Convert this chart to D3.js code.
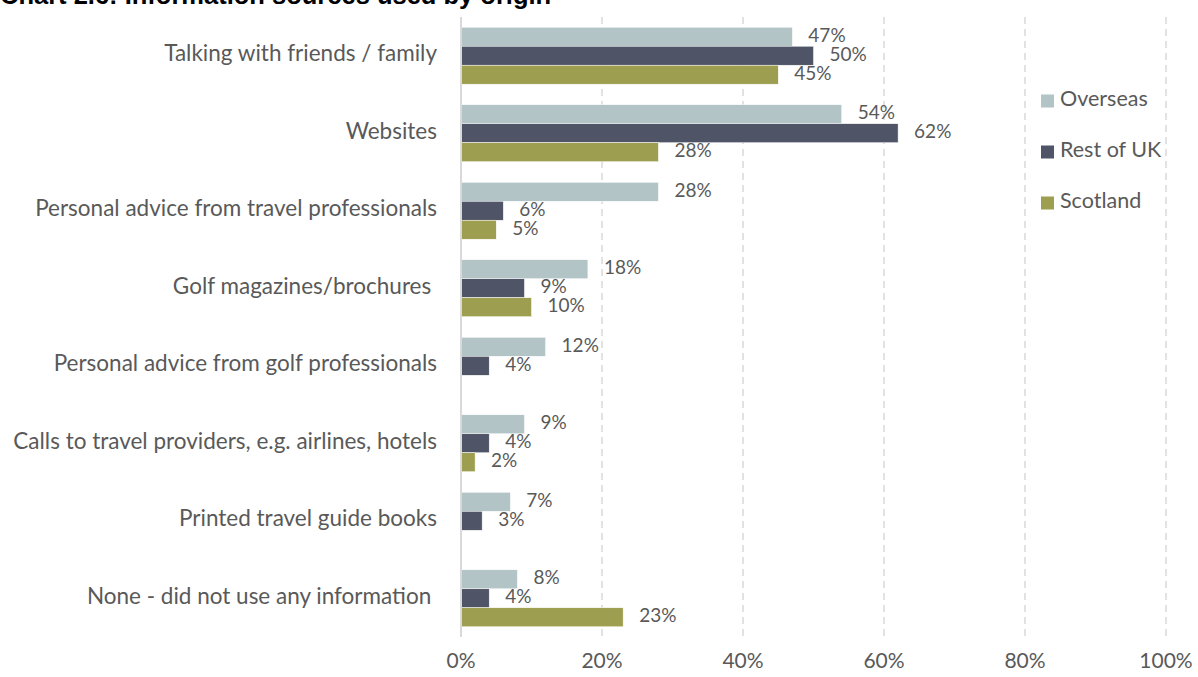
<!DOCTYPE html>
<html>
<head>
<meta charset="utf-8">
<script src="https://cdn.jsdelivr.net/npm/d3@7"></script>
<style>
  body { margin: 0; background: #fff; }
  svg text { font-family: "Lato", "Liberation Sans", sans-serif; }
</style>
</head>
<body>
<div id="chart"></div>
<script>
const width = 1198;
const height = 677;

const categories = [
  "Talking with friends / family",
  "Websites",
  "Personal advice from travel professionals",
  "Golf magazines/brochures ",
  "Personal advice from golf professionals",
  "Calls to travel providers, e.g. airlines, hotels",
  "Printed travel guide books",
  "None - did not use any information "
];
const seriesNames = ["Overseas", "Rest of UK", "Scotland"];
const overseas = [47, 54, 28, 18, 12, 9, 7, 8];
const restOfUK = [50, 62, 6, 9, 4, 4, 3, 4];
const scotland = [45, 28, 5, 10, null, 2, null, 23];
const xTicks = [0, 20, 40, 60, 80, 100];
const colors = ["#b2c4c6", "#4f5466", "#9e9e50"];

const seriesValues = [overseas, restOfUK, scotland];

const margin = { left: 461, right: 32, top: 17, bottom: 40 };

const svg = d3.select("#chart").append("svg")
    .attr("width", width)
    .attr("height", height);

const x = d3.scaleLinear()
    .domain([0, 100])
    .range([margin.left, width - margin.right]);

const y = d3.scaleBand()
    .domain(categories)
    .range([margin.top, height - margin.bottom])
    .paddingInner(0.265)
    .paddingOuter(0.132);

const y1 = d3.scaleBand()
    .domain(seriesNames)
    .range([0, y.bandwidth()]);

// title (cut off at the top)
svg.append("text")
    .attr("x", 0)
    .attr("y", 4)
    .style("font-family", "Liberation Sans, Arial, sans-serif")
    .style("font-weight", "bold")
    .style("font-size", "25.5px")
    .attr("fill", "#000")
    .text("Chart 2.6: Information sources used by origin");

// gridlines
svg.append("g")
    .selectAll("line")
    .data(xTicks.filter(d => d > 0))
    .enter().append("line")
    .attr("x1", d => x(d))
    .attr("x2", d => x(d))
    .attr("y1", margin.top)
    .attr("y2", height - margin.bottom)
    .attr("stroke", "#d9d9d9")
    .attr("stroke-width", 1.5)
    .attr("stroke-dasharray", "7,5");

// x axis labels
svg.append("g")
    .selectAll("text")
    .data(xTicks)
    .enter().append("text")
    .attr("x", d => x(d))
    .attr("y", 663)
    .attr("text-anchor", "middle")
    .attr("dominant-baseline", "middle")
    .attr("fill", "#595959")
    .style("font-size", "21px")
    .text(d => d + "%");

// bars
const rows = categories.map((c, i) => ({
  category: c,
  values: seriesNames.map((s, j) => ({ series: s, idx: j, value: seriesValues[j][i] }))
}));

const groups = svg.append("g")
    .selectAll("g")
    .data(rows)
    .enter().append("g")
    .attr("transform", d => `translate(0,${y(d.category)})`);

groups.selectAll("rect")
    .data(d => d.values.filter(v => v.value != null))
    .enter().append("rect")
    .attr("x", x(0))
    .attr("y", d => y1(d.series))
    .attr("width", d => x(d.value) - x(0))
    .attr("height", y1.bandwidth())
    .attr("fill", d => colors[d.idx])
    .attr("stroke", "#fff")
    .attr("stroke-width", 0.5);

groups.selectAll("text")
    .data(d => d.values.filter(v => v.value != null))
    .enter().append("text")
    .attr("x", d => x(d.value) + 16)
    .attr("y", d => y1(d.series) + y1.bandwidth() / 2)
    .attr("dominant-baseline", "middle")
    .attr("fill", "#595959")
    .style("font-size", "19px")
    .text(d => d.value + "%");

// axis line at 0
svg.append("line")
    .attr("x1", x(0))
    .attr("x2", x(0))
    .attr("y1", margin.top)
    .attr("y2", height - margin.bottom)
    .attr("stroke", "#d9d9d9")
    .attr("stroke-width", 2);

// category labels
svg.append("g")
    .selectAll("text")
    .data(categories)
    .enter().append("text")
    .attr("x", 437)
    .attr("y", d => y(d) + y.bandwidth() / 2)
    .attr("text-anchor", "end")
    .attr("dominant-baseline", "middle")
    .attr("fill", "#595959")
    .style("font-size", "22.5px")
    .style("white-space", "pre")
    .text(d => d);

// legend
const legend = svg.append("g")
    .selectAll("g")
    .data(seriesNames)
    .enter().append("g")
    .attr("transform", (d, i) => `translate(1041,${101 + i * 51})`);

legend.append("rect")
    .attr("x", 0)
    .attr("y", -6.5)
    .attr("width", 13)
    .attr("height", 13)
    .attr("fill", (d, i) => colors[i]);

legend.append("text")
    .attr("x", 19)
    .attr("y", 0)
    .attr("dominant-baseline", "middle")
    .attr("fill", "#595959")
    .style("font-size", "21.5px")
    .text(d => d);
</script>
</body>
</html>
